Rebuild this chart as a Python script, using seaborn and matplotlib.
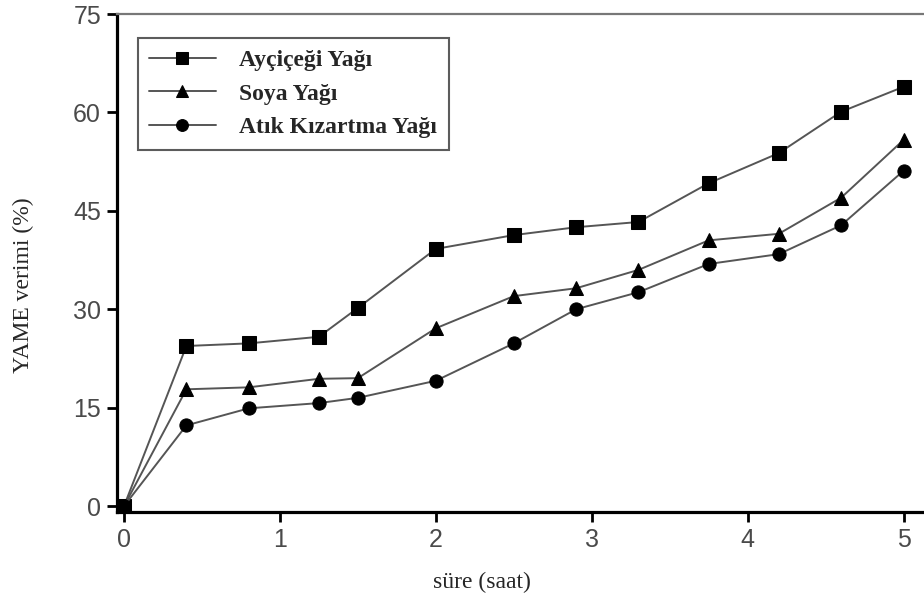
import numpy as np
import pandas as pd
import seaborn as sns
import matplotlib
matplotlib.use("Agg")
import matplotlib.pyplot as plt

# ---- data ----
time_h = [0, 0.4, 0.8, 1.25, 1.5, 2.0, 2.5, 2.9, 3.3, 3.75, 4.2, 4.6, 5.0]
aycicegi = [0, 24.4, 24.8, 25.8, 30.2, 39.2, 41.3, 42.5, 43.3, 49.2, 53.8, 60.1, 63.9]
soya = [0, 17.8, 18.1, 19.4, 19.5, 27.1, 32.0, 33.2, 36.0, 40.5, 41.5, 47.0, 55.8]
atik = [0, 12.3, 14.9, 15.7, 16.5, 19.1, 24.8, 30.0, 32.6, 36.9, 38.4, 42.8, 51.1]
series_names = ["Ayçiçeği Yağı", "Soya Yağı", "Atık Kızartma Yağı"]
x_ticks = [0, 1, 2, 3, 4, 5]
y_ticks = [0, 15, 30, 45, 60, 75]
x_label = "süre (saat)"
y_label = "YAME verimi (%)"

df = pd.concat([
    pd.DataFrame({"t": time_h, "v": aycicegi, "s": series_names[0]}),
    pd.DataFrame({"t": time_h, "v": soya, "s": series_names[1]}),
    pd.DataFrame({"t": time_h, "v": atik, "s": series_names[2]}),
])

sns.set_style("ticks")
fig = plt.figure(figsize=(9.24, 6.0), dpi=100)
ax = fig.add_axes([117 / 924, 88 / 600, 1 - 117 / 924 + 0.02, 498 / 600])

sns.lineplot(data=df, x="t", y="v", style="s", style_order=series_names,
             markers={series_names[0]: "s", series_names[1]: "^", series_names[2]: "o"},
             dashes=False, color="#555555", linewidth=1.4, markersize=9.5,
             ax=ax, legend=True)
for ln in ax.lines:
    ln.set_markerfacecolor("black")
    ln.set_markeredgecolor("black")

ax.set_xlim(-0.045, 5.25)
ax.set_ylim(-0.9, 75)
ax.set_xticks(x_ticks)
ax.set_yticks(y_ticks)
ax.set_xticklabels([str(v) for v in x_ticks])
ax.set_yticklabels([str(v) for v in y_ticks])

for sp in ["left", "bottom"]:
    ax.spines[sp].set_linewidth(2.3)
    ax.spines[sp].set_color("black")
ax.spines["top"].set_linewidth(1.6)
ax.spines["top"].set_color("#777777")
ax.spines["right"].set_visible(False)

ax.tick_params(axis="both", direction="out", length=7.5, width=2.0, color="black",
               labelsize=18, labelcolor="#4a4a4a", pad=4)
for lab in ax.get_xticklabels() + ax.get_yticklabels():
    lab.set_fontfamily("Liberation Sans")

ax.set_xlabel(x_label, fontsize=17, fontfamily="Liberation Serif")
ax.set_ylabel(y_label, fontsize=17, fontfamily="Liberation Serif")
ax.xaxis.set_label_coords((474 - 117) / 807, -0.12)
ax.yaxis.set_label_coords(-0.1, 0.455)

handles, labels = ax.get_legend_handles_labels()
for h in handles:
    h.set_color("#555555")
    h.set_markerfacecolor("black")
    h.set_markeredgecolor("black")
    h.set_markersize(8.5)
leg = ax.legend(handles, labels, loc="upper left", bbox_to_anchor=(0.025, 0.952),
                borderaxespad=0, fancybox=False, frameon=True, handlelength=2.8,
                handletextpad=1.0, labelspacing=0.5, borderpad=0.5,
                prop={"family": "Liberation Serif", "weight": "bold", "size": 17})
leg.get_frame().set_edgecolor("#333333")
leg.get_frame().set_linewidth(1.5)

fig.savefig("out.png", dpi=100)
